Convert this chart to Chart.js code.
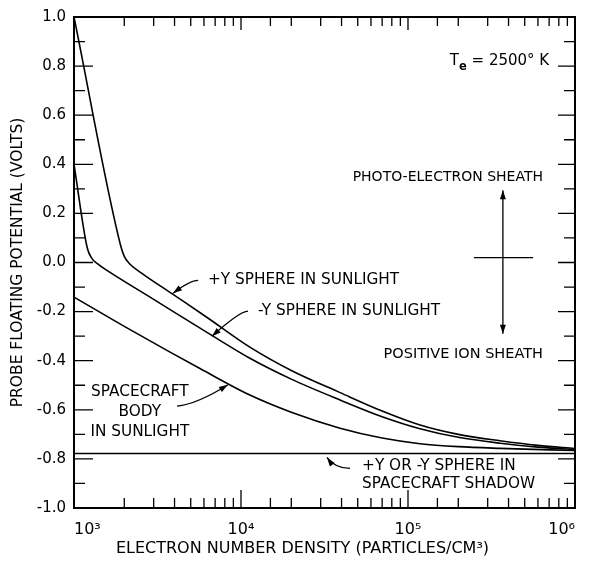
<!DOCTYPE html>
<html>
<head>
<meta charset="utf-8">
<script src="https://cdn.jsdelivr.net/npm/chart.js@4.4.1/dist/chart.umd.min.js"></script>
<style>
  html, body { margin: 0; padding: 0; background: #fff; }
</style>
</head>
<body>
<canvas id="chart" width="594" height="564"></canvas>
<script>
// ── Data ───────────────────────────────────────────────────────────────────
const plusYDensity  = [1000, 1900, 2000, 2150, 2500, 3920, 6300, 11300, 20000, 39200, 70000, 118000, 200000, 356000, 600000, 1000000];
const plusYVolts    = [1.0, 0.07, 0.025, -0.005, -0.04, -0.13, -0.225, -0.345, -0.44, -0.53, -0.605, -0.662, -0.70, -0.726, -0.745, -0.758];

const minusYDensity = [1000, 1200, 1270, 1380, 1600, 3000, 6800, 11300, 20000, 39200, 70000, 118000, 200000, 356000, 600000, 1000000];
const minusYVolts   = [0.40, 0.06, 0.02, -0.005, -0.035, -0.15, -0.30, -0.39, -0.475, -0.56, -0.628, -0.677, -0.712, -0.736, -0.752, -0.762];

const bodyDensity   = [1000, 2000, 3760, 5680, 11300, 20000, 39200, 70000, 118000, 200000, 356000, 1000000];
const bodyVolts     = [-0.141, -0.26, -0.365, -0.432, -0.54, -0.61, -0.675, -0.715, -0.738, -0.750, -0.757, -0.766];

const shadowDensity = [1000, 1000000];
const shadowVolts   = [-0.778, -0.778];

const xTitle = 'ELECTRON NUMBER DENSITY (PARTICLES/CM³)';
const yTitle = 'PROBE FLOATING POTENTIAL (VOLTS)';

const FONT = '"DejaVu Sans", sans-serif';
const SUP  = { '3': '³', '4': '⁴', '5': '⁵', '6': '⁶' };

const pts = (xs, ys) => xs.map((x, i) => ({ x, y: ys[i] }));

const line = (xs, ys) => ({
  data: pts(xs, ys),
  borderColor: '#000', borderWidth: 1.6,
  pointRadius: 0, fill: false,
  cubicInterpolationMode: 'monotone',
});

// ── Annotations: text + leaders, anchored in data coordinates ──────────────
const labels = [
  { text: 'PHOTO-ELECTRON SHEATH', x: 643000, y: 0.331,  align: 'right', size: 14 },
  { text: 'POSITIVE ION SHEATH',   x: 643000, y: -0.391, align: 'right', size: 14.5 },
  { text: '+Y SPHERE IN SUNLIGHT', x: 6340,   y: -0.089, align: 'left' },
  { text: '-Y SPHERE IN SUNLIGHT', x: 12650,  y: -0.214, align: 'left' },
  { text: 'SPACECRAFT',            x: 2480,   y: -0.544, align: 'center' },
  { text: 'BODY',                  x: 2480,   y: -0.625, align: 'center' },
  { text: 'IN SUNLIGHT',           x: 2480,   y: -0.706, align: 'center' },
  { text: '+Y OR -Y SPHERE IN',    x: 53100,  y: -0.847, align: 'left' },
  { text: 'SPACECRAFT SHADOW',     x: 53100,  y: -0.919, align: 'left' },
];

const leaders = [
  [[5540, -0.073], [4955, -0.073], [3920, -0.125]],
  [[11020, -0.198], [9860, -0.198], [6700, -0.30]],
  [[4140, -0.585], [5460, -0.577], [8350, -0.498]],
  [[45000, -0.839], [36600, -0.839], [32700, -0.794]],
];

function arrowHead(ctx, fx, fy, tx, ty, len = 9, half = 3) {
  const ang = Math.atan2(ty - fy, tx - fx);
  ctx.beginPath();
  ctx.moveTo(tx, ty);
  ctx.lineTo(tx - len * Math.cos(ang) + half * Math.sin(ang), ty - len * Math.sin(ang) - half * Math.cos(ang));
  ctx.lineTo(tx - len * Math.cos(ang) - half * Math.sin(ang), ty - len * Math.sin(ang) + half * Math.cos(ang));
  ctx.closePath();
  ctx.fill();
}

const decorations = {
  id: 'decorations',
  afterDraw(chart) {
    const { ctx, chartArea: a, scales: { x, y } } = chart;
    const px = d => x.getPixelForValue(d);
    const py = v => y.getPixelForValue(v);

    ctx.save();
    ctx.strokeStyle = '#000';
    ctx.fillStyle = '#000';

    // frame
    ctx.lineWidth = 2;
    ctx.strokeRect(a.left, a.top, a.right - a.left, a.bottom - a.top);

    // inward tick marks on all four sides
    ctx.lineWidth = 1.3;
    ctx.beginPath();
    y.ticks.forEach(t => {
      const major = Math.round(t.value * 10) % 2 === 0;
      const yy = py(t.value);
      ctx.moveTo(a.left, yy);  ctx.lineTo(a.left + (major ? 19 : 11), yy);
      ctx.moveTo(a.right, yy); ctx.lineTo(a.right - (major ? 17 : 11), yy);
    });
    x.ticks.forEach(t => {
      const e = Math.log10(t.value);
      const decade = Math.abs(e - Math.round(e)) < 1e-9;
      const xx = px(t.value);
      ctx.moveTo(xx, a.bottom); ctx.lineTo(xx, a.bottom - (decade ? 18 : 10));
      ctx.moveTo(xx, a.top);    ctx.lineTo(xx, a.top + (decade ? 13 : 9));
    });
    ctx.stroke();

    // axis titles
    ctx.textBaseline = 'alphabetic';
    ctx.textAlign = 'center';
    ctx.font = `16px ${FONT}`;
    ctx.fillText(xTitle, (a.left + a.right) / 2 - 22, 553);
    ctx.font = `15.5px ${FONT}`;
    ctx.save();
    ctx.translate(22, (a.top + a.bottom) / 2);
    ctx.rotate(-Math.PI / 2);
    ctx.fillText(yTitle, 0, 0);
    ctx.restore();

    // labels
    labels.forEach(l => {
      ctx.font = `${l.size || 15.3}px ${FONT}`;
      ctx.textAlign = l.align;
      ctx.fillText(l.text, px(l.x), py(l.y));
    });

    // T_e = 2500° K
    ctx.font = `15px ${FONT}`;
    ctx.textAlign = 'left';
    let tx = px(178000), ty = py(0.806);
    ctx.fillText('T', tx, ty);
    tx += ctx.measureText('T').width;
    ctx.font = `bold 11.5px ${FONT}`;
    ctx.fillText('e', tx, ty + 5);
    tx += ctx.measureText('e').width;
    ctx.font = `15px ${FONT}`;
    ctx.fillText(' = 2500° K', tx, ty);

    // leader lines with arrowheads
    ctx.lineWidth = 1.3;
    leaders.forEach(([p0, p1, p2]) => {
      const [x0, y0, x1, y1, x2, y2] = [px(p0[0]), py(p0[1]), px(p1[0]), py(p1[1]), px(p2[0]), py(p2[1])];
      ctx.beginPath();
      ctx.moveTo(x0, y0);
      ctx.quadraticCurveTo(x1, y1, x2, y2);
      ctx.stroke();
      arrowHead(ctx, x1, y1, x2, y2);
    });

    // sheath double arrow and crossbar
    const ax = px(370000), aTop = py(0.294), aBot = py(-0.29);
    ctx.beginPath();
    ctx.moveTo(ax, aTop); ctx.lineTo(ax, aBot);
    ctx.moveTo(px(248000), py(0.02)); ctx.lineTo(px(561000), py(0.02));
    ctx.stroke();
    arrowHead(ctx, ax, aBot, ax, aTop);
    arrowHead(ctx, ax, aTop, ax, aBot);

    ctx.restore();
  }
};

new Chart(document.getElementById('chart'), {
  type: 'line',
  data: {
    datasets: [
      line(plusYDensity, plusYVolts),
      line(minusYDensity, minusYVolts),
      line(bodyDensity, bodyVolts),
      line(shadowDensity, shadowVolts),
    ]
  },
  options: {
    responsive: false,
    animation: false,
    devicePixelRatio: 1,
    layout: { padding: { top: 12, right: 19, left: 0, bottom: 0 } },
    plugins: { legend: { display: false }, tooltip: { enabled: false } },
    scales: {
      x: {
        type: 'logarithmic', min: 1000, max: 1000000,
        grid: { display: false, drawTicks: false },
        border: { display: false },
        afterFit: s => { s.height = 56; },
        ticks: {
          autoSkip: false, maxRotation: 0, padding: 12, align: 'inner',
          color: '#000', font: { family: FONT, size: 16 },
          callback: v => {
            const e = Math.log10(v);
            return Math.abs(e - Math.round(e)) < 1e-9 ? '10' + SUP[String(Math.round(e))] : '';
          }
        }
      },
      y: {
        min: -1, max: 1,
        grid: { display: false, drawTicks: false },
        border: { display: false },
        afterFit: s => { s.width = 74; },
        ticks: {
          stepSize: 0.1, autoSkip: false, padding: 8,
          color: '#000', font: { family: FONT, size: 15 },
          callback: v => Math.round(v * 10) % 2 === 0 ? (Math.round(v * 10) / 10).toFixed(1) : ''
        }
      }
    }
  },
  plugins: [decorations]
});
</script>
</body>
</html>
